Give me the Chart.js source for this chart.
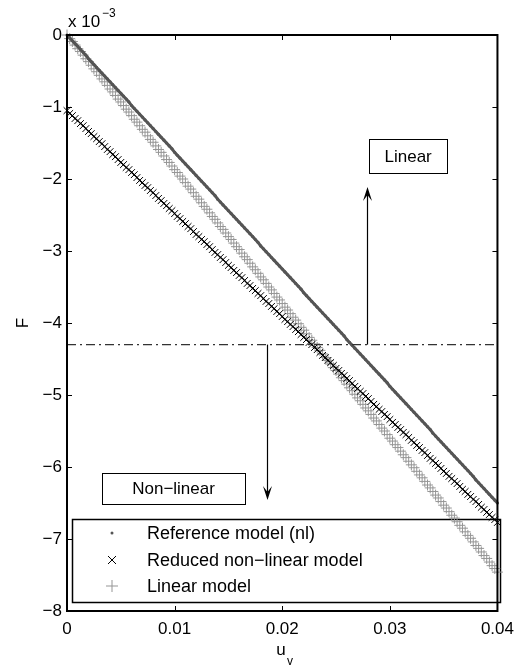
<!DOCTYPE html>
<html>
<head>
<meta charset="utf-8">
<script src="https://cdn.jsdelivr.net/npm/chart.js@4.4.1/dist/chart.umd.min.js"></script>
<style>
  html, body { margin: 0; padding: 0; background: #fff; }
  #c { display: block; }
</style>
</head>
<body>
<canvas id="c" width="522" height="666"></canvas>
<script>
// ---- data (F in units of 1e-3) ----
const uV = [0,0.00025,0.0005,0.00075,0.001,0.00125,0.0015,0.00175,0.002,0.00225,
  0.0025,0.00275,0.003,0.00325,0.0035,0.00375,0.004,0.00425,0.0045,0.00475,
  0.005,0.00525,0.0055,0.00575,0.006,0.00625,0.0065,0.00675,0.007,0.00725,
  0.0075,0.00775,0.008,0.00825,0.0085,0.00875,0.009,0.00925,0.0095,0.00975,
  0.01,0.01025,0.0105,0.01075,0.011,0.01125,0.0115,0.01175,0.012,0.01225,
  0.0125,0.01275,0.013,0.01325,0.0135,0.01375,0.014,0.01425,0.0145,0.01475,
  0.015,0.01525,0.0155,0.01575,0.016,0.01625,0.0165,0.01675,0.017,0.01725,
  0.0175,0.01775,0.018,0.01825,0.0185,0.01875,0.019,0.01925,0.0195,0.01975,
  0.02,0.02025,0.0205,0.02075,0.021,0.02125,0.0215,0.02175,0.022,0.02225,
  0.0225,0.02275,0.023,0.02325,0.0235,0.02375,0.024,0.02425,0.0245,0.02475,
  0.025,0.02525,0.0255,0.02575,0.026,0.02625,0.0265,0.02675,0.027,0.02725,
  0.0275,0.02775,0.028,0.02825,0.0285,0.02875,0.029,0.02925,0.0295,0.02975,
  0.03,0.03025,0.0305,0.03075,0.031,0.03125,0.0315,0.03175,0.032,0.03225,
  0.0325,0.03275,0.033,0.03325,0.0335,0.03375,0.034,0.03425,0.0345,0.03475,
  0.035,0.03525,0.0355,0.03575,0.036,0.03625,0.0365,0.03675,0.037,0.03725,
  0.0375,0.03775,0.038,0.03825,0.0385,0.03875,0.039,0.03925,0.0395,0.03975,
  0.04];
const fRef = [0,-0.04,-0.08,-0.12,-0.16,-0.20,-0.24,-0.28,-0.33,-0.37,
  -0.41,-0.45,-0.49,-0.53,-0.57,-0.61,-0.65,-0.69,-0.73,-0.77,
  -0.81,-0.85,-0.89,-0.93,-0.98,-1.02,-1.06,-1.10,-1.14,-1.18,
  -1.22,-1.26,-1.30,-1.34,-1.38,-1.42,-1.46,-1.50,-1.54,-1.58,
  -1.63,-1.67,-1.71,-1.75,-1.79,-1.83,-1.87,-1.91,-1.95,-1.99,
  -2.03,-2.07,-2.11,-2.15,-2.19,-2.23,-2.28,-2.32,-2.36,-2.40,
  -2.44,-2.48,-2.52,-2.56,-2.60,-2.64,-2.68,-2.72,-2.76,-2.80,
  -2.84,-2.88,-2.93,-2.97,-3.01,-3.05,-3.09,-3.13,-3.17,-3.21,
  -3.25,-3.29,-3.33,-3.37,-3.41,-3.45,-3.49,-3.53,-3.58,-3.62,
  -3.66,-3.70,-3.74,-3.78,-3.82,-3.86,-3.90,-3.94,-3.98,-4.02,
  -4.06,-4.10,-4.14,-4.18,-4.23,-4.27,-4.31,-4.35,-4.39,-4.43,
  -4.47,-4.51,-4.55,-4.59,-4.63,-4.67,-4.71,-4.75,-4.79,-4.83,
  -4.88,-4.92,-4.96,-5.00,-5.04,-5.08,-5.12,-5.16,-5.20,-5.24,
  -5.28,-5.32,-5.36,-5.40,-5.44,-5.48,-5.53,-5.57,-5.61,-5.65,
  -5.69,-5.73,-5.77,-5.81,-5.85,-5.89,-5.93,-5.97,-6.01,-6.05,
  -6.09,-6.13,-6.18,-6.22,-6.26,-6.30,-6.34,-6.38,-6.42,-6.46,
  -6.50];
const fRed = [-1.05,-1.09,-1.12,-1.16,-1.19,-1.23,-1.26,-1.30,-1.34,-1.37,
  -1.41,-1.44,-1.48,-1.51,-1.55,-1.59,-1.62,-1.66,-1.69,-1.73,
  -1.77,-1.80,-1.84,-1.87,-1.91,-1.94,-1.98,-2.02,-2.05,-2.09,
  -2.12,-2.16,-2.19,-2.23,-2.27,-2.30,-2.34,-2.37,-2.41,-2.44,
  -2.48,-2.52,-2.55,-2.59,-2.62,-2.66,-2.69,-2.73,-2.77,-2.80,
  -2.84,-2.87,-2.91,-2.94,-2.98,-3.02,-3.05,-3.09,-3.12,-3.16,
  -3.20,-3.23,-3.27,-3.30,-3.34,-3.37,-3.41,-3.45,-3.48,-3.52,
  -3.55,-3.59,-3.62,-3.66,-3.70,-3.73,-3.77,-3.80,-3.84,-3.87,
  -3.91,-3.95,-3.98,-4.02,-4.05,-4.09,-4.12,-4.16,-4.20,-4.23,
  -4.27,-4.30,-4.34,-4.37,-4.41,-4.45,-4.48,-4.52,-4.55,-4.59,
  -4.63,-4.66,-4.70,-4.73,-4.77,-4.80,-4.84,-4.88,-4.91,-4.95,
  -4.98,-5.02,-5.05,-5.09,-5.13,-5.16,-5.20,-5.23,-5.27,-5.30,
  -5.34,-5.38,-5.41,-5.45,-5.48,-5.52,-5.55,-5.59,-5.63,-5.66,
  -5.70,-5.73,-5.77,-5.80,-5.84,-5.88,-5.91,-5.95,-5.98,-6.02,
  -6.06,-6.09,-6.13,-6.16,-6.20,-6.23,-6.27,-6.31,-6.34,-6.38,
  -6.41,-6.45,-6.48,-6.52,-6.56,-6.59,-6.63,-6.66,-6.70,-6.73,
  -6.77];
const fLin = [0,-0.05,-0.09,-0.14,-0.19,-0.23,-0.28,-0.33,-0.37,-0.42,
  -0.47,-0.51,-0.56,-0.61,-0.65,-0.70,-0.75,-0.79,-0.84,-0.89,
  -0.93,-0.98,-1.03,-1.07,-1.12,-1.17,-1.21,-1.26,-1.31,-1.35,
  -1.40,-1.45,-1.49,-1.54,-1.59,-1.63,-1.68,-1.73,-1.77,-1.82,
  -1.87,-1.91,-1.96,-2.00,-2.05,-2.10,-2.14,-2.19,-2.24,-2.28,
  -2.33,-2.38,-2.42,-2.47,-2.52,-2.56,-2.61,-2.66,-2.70,-2.75,
  -2.80,-2.84,-2.89,-2.94,-2.98,-3.03,-3.08,-3.12,-3.17,-3.22,
  -3.26,-3.31,-3.36,-3.40,-3.45,-3.50,-3.54,-3.59,-3.64,-3.68,
  -3.73,-3.78,-3.82,-3.87,-3.92,-3.96,-4.01,-4.06,-4.10,-4.15,
  -4.20,-4.24,-4.29,-4.34,-4.38,-4.43,-4.48,-4.52,-4.57,-4.62,
  -4.66,-4.71,-4.76,-4.80,-4.85,-4.90,-4.94,-4.99,-5.04,-5.08,
  -5.13,-5.18,-5.22,-5.27,-5.32,-5.36,-5.41,-5.46,-5.50,-5.55,
  -5.60,-5.64,-5.69,-5.73,-5.78,-5.83,-5.87,-5.92,-5.97,-6.01,
  -6.06,-6.11,-6.15,-6.20,-6.25,-6.29,-6.34,-6.39,-6.43,-6.48,
  -6.53,-6.57,-6.62,-6.67,-6.71,-6.76,-6.81,-6.85,-6.90,-6.95,
  -6.99,-7.04,-7.09,-7.13,-7.18,-7.23,-7.27,-7.32,-7.37,-7.41,
  -7.46];
const seriesLabels = ['Reference model (nl)', 'Reduced non\u2212linear model', 'Linear model'];
const xTicks = [0, 0.01, 0.02, 0.03, 0.04];
const yTicks = [0, -1, -2, -3, -4, -5, -6, -7, -8];
const xTickLabels = ['0', '0.01', '0.02', '0.03', '0.04'];
const yTickLabels = ['0', '\u22121', '\u22122', '\u22123', '\u22124', '\u22125', '\u22126', '\u22127', '\u22128'];
const threshold = -4.3;
const upArrow = { x: 0.0279, from: -4.3, to: -2.11 };
const downArrow = { x: 0.0186, from: -4.3, to: -6.46 };
const linearNote = { text: 'Linear', x: 0.0317, y: -1.68 };
const nonlinearNote = { text: 'Non\u2212linear', x: 0.0099, y: -6.30 };
const xLabel = 'u', xLabelSub = 'v', yLabel = 'F';

const FONT = '"Liberation Sans", Arial, Helvetica, sans-serif';
const toPts = (ys) => ys.map((y, i) => ({ x: uV[i], y: y }));

const legendBox = {
  id: 'legendBox',
  beforeDatasetsDraw(chart) {
    const ctx = chart.ctx;
    ctx.save();
    const lx = 72.5, lt = 519.5, lw = 428, lh = 83;
    ctx.fillStyle = '#fff'; ctx.fillRect(lx, lt, lw, lh);
    ctx.strokeStyle = '#000'; ctx.lineWidth = 1.5; ctx.strokeRect(lx, lt, lw, lh);
    ctx.font = '18px ' + FONT; ctx.textAlign = 'left'; ctx.textBaseline = 'middle';
    const rowY = [533, 560, 586];
    chart.data.datasets.forEach((ds, i) => {
      const mx = 112, my = rowY[i];
      ctx.strokeStyle = ds.pointBorderColor; ctx.fillStyle = ds.pointBorderColor; ctx.lineWidth = 1;
      if (ds.pointStyle === 'circle') {
        ctx.beginPath(); ctx.arc(mx, my, 1.5, 0, Math.PI * 2); ctx.fill();
      } else if (ds.pointStyle === 'crossRot') {
        ctx.beginPath(); ctx.moveTo(mx - 4, my - 4); ctx.lineTo(mx + 4, my + 4);
        ctx.moveTo(mx + 4, my - 4); ctx.lineTo(mx - 4, my + 4); ctx.stroke();
      } else {
        ctx.beginPath(); ctx.moveTo(mx - 6, my); ctx.lineTo(mx + 6, my);
        ctx.moveTo(mx, my - 6); ctx.lineTo(mx, my + 6); ctx.stroke();
      }
      ctx.fillStyle = '#000';
      ctx.fillText(ds.label, 147, my + 1);
    });
    ctx.restore();
  }
};

const decor = {
  id: 'decor',
  afterDatasetsDraw(chart) {
    const ctx = chart.ctx, ca = chart.chartArea;
    const xs = chart.scales.x, ys = chart.scales.y;
    ctx.save();
    // dash-dot threshold line
    const ty = ys.getPixelForValue(threshold);
    ctx.strokeStyle = '#333'; ctx.lineWidth = 1.3;
    ctx.setLineDash([9, 4, 2, 4]);
    ctx.beginPath(); ctx.moveTo(ca.left, ty); ctx.lineTo(ca.right, ty); ctx.stroke();
    ctx.setLineDash([]);
    // arrows
    function arrow(a) {
      const x = Math.round(xs.getPixelForValue(a.x)) + 0.5;
      const y0 = ys.getPixelForValue(a.from), y1 = ys.getPixelForValue(a.to);
      const dir = y1 < y0 ? -1 : 1;
      ctx.strokeStyle = '#000'; ctx.fillStyle = '#000'; ctx.lineWidth = 1.2;
      ctx.beginPath(); ctx.moveTo(x, y0); ctx.lineTo(x, y1 - dir * 6); ctx.stroke();
      ctx.beginPath();
      ctx.moveTo(x, y1);
      ctx.lineTo(x - 4.5, y1 - dir * 14);
      ctx.lineTo(x, y1 - dir * 8);
      ctx.lineTo(x + 4.5, y1 - dir * 14);
      ctx.closePath(); ctx.fill();
    }
    arrow(upArrow); arrow(downArrow);
    // text boxes
    function note(n, w, h) {
      const cx = xs.getPixelForValue(n.x), cy = ys.getPixelForValue(n.y);
      const l = Math.round(cx - w / 2) + 0.5, t = Math.round(cy - h / 2) + 0.5;
      ctx.fillStyle = '#fff'; ctx.fillRect(l, t, w, h);
      ctx.strokeStyle = '#000'; ctx.lineWidth = 1; ctx.strokeRect(l, t, w, h);
      ctx.fillStyle = '#000'; ctx.font = '17px ' + FONT;
      ctx.textAlign = 'center'; ctx.textBaseline = 'middle';
      ctx.fillText(n.text, cx, cy + 1);
    }
    note(linearNote, 78, 34);
    note(nonlinearNote, 143, 31);
    // axes box
    ctx.strokeStyle = '#000'; ctx.lineWidth = 2;
    ctx.strokeRect(ca.left, ca.top, ca.right - ca.left, ca.bottom - ca.top);
    // inward ticks
    ctx.lineWidth = 1;
    xTicks.forEach(v => {
      const x = Math.round(xs.getPixelForValue(v)) + 0.5;
      ctx.beginPath();
      ctx.moveTo(x, ca.bottom); ctx.lineTo(x, ca.bottom - 5);
      ctx.moveTo(x, ca.top); ctx.lineTo(x, ca.top + 5); ctx.stroke();
    });
    yTicks.forEach(v => {
      const y = Math.round(ys.getPixelForValue(v)) + 0.5;
      ctx.beginPath();
      ctx.moveTo(ca.left, y); ctx.lineTo(ca.left + 5, y);
      ctx.moveTo(ca.right, y); ctx.lineTo(ca.right - 5, y); ctx.stroke();
    });
    // exponent label
    ctx.fillStyle = '#000'; ctx.textAlign = 'left'; ctx.textBaseline = 'alphabetic';
    ctx.font = '17px ' + FONT; ctx.fillText('x 10', 68, 27);
    ctx.font = '12px ' + FONT; ctx.fillText('\u22123', 102, 17);
    // axis titles
    ctx.font = '17px ' + FONT; ctx.textAlign = 'center';
    ctx.fillText(xLabel, 281, 655);
    ctx.font = '12px ' + FONT; ctx.fillText(xLabelSub, 290, 665);
    ctx.save();
    ctx.translate(28, 323); ctx.rotate(-Math.PI / 2);
    ctx.font = '17px ' + FONT; ctx.textAlign = 'center'; ctx.textBaseline = 'alphabetic';
    ctx.fillText(yLabel, 0, 0);
    ctx.restore();
    ctx.restore();
  }
};

new Chart(document.getElementById('c'), {
  type: 'scatter',
  data: {
    datasets: [
      { label: seriesLabels[0], data: toPts(fRef), pointStyle: 'circle', pointRadius: 1.6,
        pointBorderColor: '#555', pointBackgroundColor: '#555', pointBorderWidth: 0,
        showLine: true, borderColor: '#555', borderWidth: 3, clip: false },
      { label: seriesLabels[1], data: toPts(fRed), pointStyle: 'crossRot', pointRadius: 4.8,
        pointBorderColor: '#000', pointBackgroundColor: '#000', pointBorderWidth: 1,
        showLine: true, borderColor: '#000', borderWidth: 1.2, clip: false },
      { label: seriesLabels[2], data: toPts(fLin), pointStyle: 'cross', pointRadius: 5.5,
        pointBorderColor: '#959595', pointBackgroundColor: '#959595', pointBorderWidth: 1,
        showLine: false, clip: false }
    ]
  },
  options: {
    responsive: false, animation: false,
    layout: { padding: { top: 35, right: 20, left: 0, bottom: 0 } },
    plugins: { legend: { display: false }, tooltip: { enabled: false } },
    scales: {
      x: {
        type: 'linear', min: 0, max: 0.04,
        afterBuildTicks: s => { s.ticks = xTicks.map(v => ({ value: v })); },
        afterFit: s => { s.height = 55; },
        grid: { display: false, drawTicks: false }, border: { display: false },
        ticks: { color: '#000', font: { family: FONT, size: 17 }, padding: 8, maxRotation: 0,
          callback: (v) => xTickLabels[xTicks.indexOf(v)] }
      },
      y: {
        type: 'linear', min: -8, max: 0,
        afterBuildTicks: s => { s.ticks = yTicks.map(v => ({ value: v })); },
        afterFit: s => { s.width = 67; },
        grid: { display: false, drawTicks: false }, border: { display: false },
        ticks: { color: '#000', font: { family: FONT, size: 17 }, padding: 5,
          callback: (v) => yTickLabels[yTicks.indexOf(v)] }
      }
    }
  },
  plugins: [legendBox, decor]
});
</script>
</body>
</html>
